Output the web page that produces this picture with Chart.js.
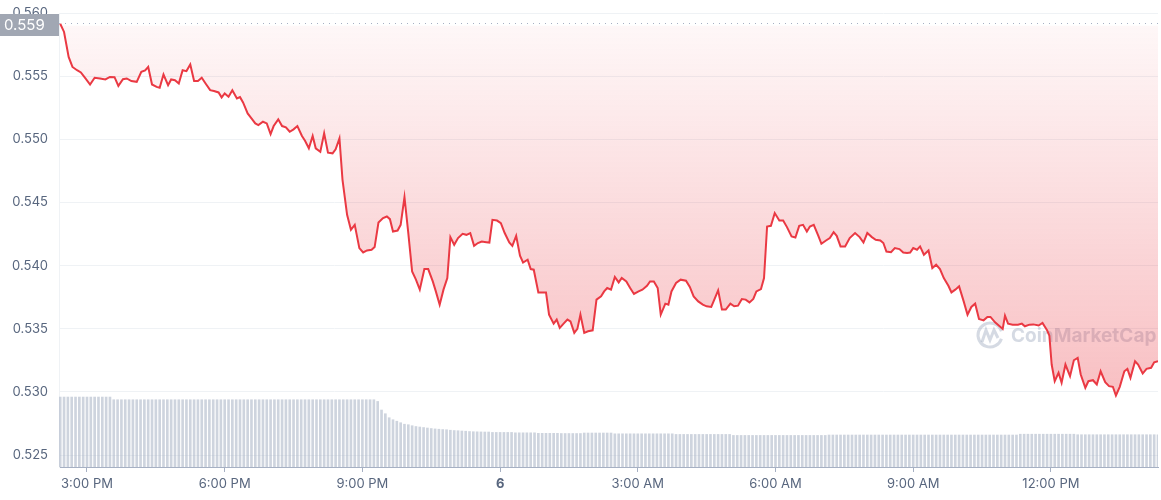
<!DOCTYPE html>
<html>
<head>
<meta charset="utf-8">
<script src="https://cdn.jsdelivr.net/npm/chart.js@4.4.0/dist/chart.umd.min.js"></script>
<style>
  body { margin: 0; background: #fff; }
  #wrap { width: 1161px; height: 500px; }
</style>
</head>
<body>
<div id="wrap"><canvas id="priceChart" width="1161" height="500"></canvas></div>
<script>
// times are minutes after midnight of day 5 (900 = 3:00 PM, 1440 = midnight "6")
var tickTimes = [900, 1080, 1260, 1440, 1620, 1800, 1980, 2160];
var tickLabels = ['3:00 PM', '6:00 PM', '9:00 PM', '6', '3:00 AM', '6:00 AM', '9:00 AM', '12:00 PM'];
var yTicks = [0.525, 0.530, 0.535, 0.540, 0.545, 0.550, 0.555, 0.560];
var openPrice = 0.559;

var priceTimes = [
  865,870,876,881,887,892,898,904,910,917,
  924,930,936,941,947,952,958,965,971,976,
  980,985,991,995,1000,1006,1010,1015,1020,1025,
  1030,1035,1040,1045,1050,1055,1061,1066,1072,1076,
  1080,1085,1090,1096,1100,1104,1110,1115,1120,1124,
  1130,1135,1140,1144,1150,1155,1160,1165,1170,1175,
  1181,1185,1190,1195,1199,1205,1210,1215,1221,1225,
  1230,1234,1240,1245,1250,1256,1261,1266,1272,1276,
  1281,1287,1292,1296,1300,1306,1310,1315,1320,1325,
  1330,1335,1341,1346,1352,1356,1361,1366,1371,1375,
  1380,1385,1391,1396,1401,1406,1411,1416,1422,1426,
  1430,1436,1441,1446,1452,1456,1461,1466,1470,1476,
  1480,1484,1490,1496,1500,1504,1510,1514,1518,1523,
  1528,1532,1537,1541,1545,1550,1555,1561,1566,1572,
  1576,1580,1585,1590,1595,1599,1605,1610,1615,1621,
  1626,1632,1636,1641,1646,1650,1656,1660,1664,1670,
  1676,1683,1688,1693,1699,1705,1710,1716,1720,1725,
  1730,1735,1741,1746,1751,1756,1761,1766,1771,1775,
  1781,1785,1789,1794,1799,1805,1810,1815,1821,1826,
  1831,1836,1841,1845,1850,1856,1860,1866,1871,1876,
  1880,1885,1891,1897,1904,1910,1915,1920,1926,1931,
  1937,1941,1945,1951,1956,1962,1967,1972,1976,1980,
  1985,1989,1994,2000,2005,2010,2015,2020,2026,2030,
  2035,2040,2046,2051,2056,2061,2066,2072,2077,2081,
  2087,2093,2097,2100,2104,2110,2117,2122,2126,2132,
  2137,2144,2149,2155,2158,2161,2165,2170,2174,2179,
  2185,2190,2195,2199,2205,2209,2215,2220,2225,2231,
  2236,2241,2245,2250,2256,2260,2264,2270,2274,2280,
  2285,2291,2295,2300
];

var prices = [
  0.55915,0.5585,0.55652,0.55573,0.55547,0.55529,0.55482,0.55434,0.55487,0.55482,
  0.55474,0.55494,0.55492,0.55423,0.55476,0.55482,0.55461,0.55455,0.55534,0.55545,
  0.55573,0.55434,0.55415,0.55408,0.55513,0.55429,0.55474,0.55468,0.55442,0.55547,
  0.5554,0.55592,0.55461,0.55461,0.55487,0.55442,0.55389,0.55382,0.55371,0.55332,
  0.55363,0.55337,0.55389,0.55324,0.55334,0.55292,0.55205,0.55166,0.55126,0.55113,
  0.55139,0.55126,0.55042,0.55105,0.55158,0.55105,0.55095,0.5506,0.55079,0.55105,
  0.55026,0.54989,0.54929,0.55026,0.54929,0.54902,0.55047,0.54894,0.54889,0.54921,
  0.55008,0.54679,0.54402,0.54284,0.54323,0.54139,0.54104,0.5412,0.54126,0.54147,
  0.54341,0.54376,0.54389,0.54368,0.5427,0.54278,0.54323,0.54542,0.54258,0.53954,
  0.53889,0.5381,0.53973,0.53973,0.53875,0.53796,0.53691,0.5381,0.53902,0.54226,
  0.54165,0.54218,0.54252,0.54244,0.54258,0.54157,0.54179,0.54191,0.54186,0.54183,
  0.54363,0.54357,0.54337,0.54258,0.54183,0.54157,0.54236,0.54078,0.54025,0.54047,
  0.53973,0.53968,0.53788,0.53788,0.53788,0.53612,0.53541,0.53573,0.53507,0.53541,
  0.53573,0.53559,0.53468,0.53499,0.53612,0.53468,0.5348,0.53488,0.53731,0.53757,
  0.53796,0.53823,0.5381,0.5391,0.53867,0.53902,0.53875,0.53823,0.53776,0.53796,
  0.5381,0.53841,0.53875,0.53875,0.53823,0.53612,0.53699,0.53691,0.53796,0.53863,
  0.53889,0.53881,0.53831,0.53757,0.53717,0.53691,0.53678,0.53673,0.53731,0.53804,
  0.53652,0.53652,0.53699,0.53678,0.53683,0.53736,0.53731,0.53709,0.53736,0.53796,
  0.53815,0.53902,0.5431,0.54315,0.54416,0.54357,0.54357,0.54305,0.54231,0.54223,
  0.54315,0.54323,0.5427,0.5431,0.54323,0.54236,0.54173,0.54199,0.54218,0.54265,
  0.54236,0.54152,0.54152,0.54218,0.54258,0.54226,0.54183,0.54258,0.54226,0.54205,
  0.54199,0.54179,0.54112,0.54107,0.54139,0.54131,0.54104,0.541,0.54104,0.54139,
  0.54126,0.54152,0.54086,0.5412,0.53981,0.54007,0.53973,0.53902,0.53841,0.53788,
  0.5381,0.53836,0.53717,0.53612,0.53673,0.53699,0.53578,0.53567,0.53594,0.53594,
  0.53551,0.5352,0.53499,0.53604,0.53541,0.53533,0.53533,0.53541,0.5352,0.53533,
  0.53535,0.53526,0.53547,0.53488,0.53446,0.53217,0.53085,0.53152,0.53073,0.53217,
  0.53125,0.53251,0.5327,0.53138,0.53033,0.53085,0.53093,0.53059,0.53164,0.53077,
  0.53046,0.53041,0.52972,0.53041,0.53164,0.53183,0.53112,0.53243,0.53217,0.53146,
  0.53183,0.53191,0.53235,0.53243
];

// 5 minute volume bars (24h rolling volume, millions)
var volTimes = [
  865,870,875,880,885,890,895,900,905,910,915,920,
  925,930,935,940,945,950,955,960,965,970,975,980,
  985,990,995,1000,1005,1010,1015,1020,1025,1030,1035,1040,
  1045,1050,1055,1060,1065,1070,1075,1080,1085,1090,1095,1100,
  1105,1110,1115,1120,1125,1130,1135,1140,1145,1150,1155,1160,
  1165,1170,1175,1180,1185,1190,1195,1200,1205,1210,1215,1220,
  1225,1230,1235,1240,1245,1250,1255,1260,1265,1270,1275,1280,
  1285,1290,1295,1300,1305,1310,1315,1320,1325,1330,1335,1340,
  1345,1350,1355,1360,1365,1370,1375,1380,1385,1390,1395,1400,
  1405,1410,1415,1420,1425,1430,1435,1440,1445,1450,1455,1460,
  1465,1470,1475,1480,1485,1490,1495,1500,1505,1510,1515,1520,
  1525,1530,1535,1540,1545,1550,1555,1560,1565,1570,1575,1580,
  1585,1590,1595,1600,1605,1610,1615,1620,1625,1630,1635,1640,
  1645,1650,1655,1660,1665,1670,1675,1680,1685,1690,1695,1700,
  1705,1710,1715,1720,1725,1730,1735,1740,1745,1750,1755,1760,
  1765,1770,1775,1780,1785,1790,1795,1800,1805,1810,1815,1820,
  1825,1830,1835,1840,1845,1850,1855,1860,1865,1870,1875,1880,
  1885,1890,1895,1900,1905,1910,1915,1920,1925,1930,1935,1940,
  1945,1950,1955,1960,1965,1970,1975,1980,1985,1990,1995,2000,
  2005,2010,2015,2020,2025,2030,2035,2040,2045,2050,2055,2060,
  2065,2070,2075,2080,2085,2090,2095,2100,2105,2110,2115,2120,
  2125,2130,2135,2140,2145,2150,2155,2160,2165,2170,2175,2180,
  2185,2190,2195,2200,2205,2210,2215,2220,2225,2230,2235,2240,
  2245,2250,2255,2260,2265,2270,2275,2280,2285,2290,2295,2300
];
var volumes = [
  700,700,700,700,700,700,700,700,700,700,700,700,
  700,700,673,673,673,673,673,673,673,673,673,673,
  673,673,673,673,673,673,673,673,673,673,673,673,
  673,673,673,673,673,673,673,673,673,673,673,673,
  673,673,673,673,673,673,673,673,673,673,673,673,
  673,673,673,673,673,673,673,673,673,673,673,673,
  673,673,673,673,673,673,673,673,673,673,673,656,
  570,533,493,473,458,443,428,423,413,405,400,395,
  390,385,381,378,375,373,368,365,363,360,358,355,
  353,352,351,350,350,346,346,346,346,346,346,342,
  342,342,342,342,342,337,337,337,337,337,337,335,
  335,335,335,335,335,340,340,340,340,340,340,340,
  340,332,332,332,332,332,332,332,332,332,332,332,
  332,332,332,332,332,326,326,326,326,326,326,326,
  326,326,326,326,326,326,326,326,316,316,316,316,
  316,316,316,316,316,316,316,316,316,316,316,316,
  316,316,316,316,316,316,316,316,316,320,320,320,
  320,320,320,320,320,320,320,320,320,320,320,320,
  320,320,320,320,320,320,320,320,320,320,320,320,
  320,320,320,320,320,320,320,320,320,320,320,320,
  320,320,320,320,320,320,320,320,320,320,320,328,
  328,328,328,328,328,328,328,328,328,328,328,328,
  328,328,323,323,323,323,323,323,323,323,323,323,
  323,323,323,323,323,323,323,323,323,323,323,323
];

var red = '#ea3943';
var labelColor = '#58667e';
var lowPrice = Math.min.apply(null, prices);

// dotted open-price line + grey price tag on the left
var openLinePlugin = {
  id: 'openLine',
  afterDraw: function (chart) {
    var ctx = chart.ctx;
    var area = chart.chartArea;
    var py = Math.round(chart.scales.y.getPixelForValue(openPrice));
    var y = py - 2.5;
    ctx.save();
    ctx.strokeStyle = '#a6b0c3';
    ctx.lineWidth = 1;
    ctx.setLineDash([1, 5]);
    ctx.beginPath();
    ctx.moveTo(area.left, y);
    ctx.lineTo(area.right, y);
    ctx.stroke();
    ctx.setLineDash([]);
    ctx.fillStyle = '#a1a7b3';
    ctx.fillRect(0, py - 12, area.left, 22);
    ctx.fillStyle = '#ffffff';
    ctx.font = '15px Inter, "Noto Sans", sans-serif';
    ctx.textBaseline = 'middle';
    ctx.textAlign = 'left';
    ctx.fillText(openPrice.toFixed(3), 4, py - 0.5);
    ctx.restore();
  }
};

var watermarkPlugin = {
  id: 'watermark',
  beforeDatasetsDraw: function (chart) {
    var ctx = chart.ctx;
    ctx.save();
    ctx.strokeStyle = 'rgba(150,162,185,0.4)';
    ctx.fillStyle = 'rgba(150,162,185,0.4)';
    ctx.lineWidth = 3;
    ctx.beginPath();
    ctx.arc(990, 335, 12, 0.1 * Math.PI, 1.9 * Math.PI);
    ctx.stroke();
    ctx.beginPath();
    ctx.moveTo(982, 342);
    ctx.lineTo(986, 330);
    ctx.lineTo(990, 340);
    ctx.lineTo(994, 330);
    ctx.lineTo(998, 338);
    ctx.stroke();
    ctx.font = 'bold 19px Inter, "Noto Sans", sans-serif';
    ctx.textBaseline = 'middle';
    ctx.fillText('CoinMarketCap', 1011, 336);
    ctx.restore();
  }
};

var ctx = document.getElementById('priceChart').getContext('2d');

var chart = new Chart(ctx, {
  type: 'line',
  data: {
    datasets: [{
      label: 'Price',
      data: priceTimes.map(function (t, i) { return { x: t, y: prices[i] }; }),
      borderColor: red,
      borderWidth: 2,
      pointRadius: 0,
      tension: 0,
      fill: { value: openPrice },
      backgroundColor: function (context) {
        var c = context.chart;
        if (!c.chartArea) return 'rgba(234,57,67,0.15)';
        var ys = c.scales.y;
        var g = c.ctx.createLinearGradient(0, ys.getPixelForValue(openPrice), 0, ys.getPixelForValue(lowPrice));
        g.addColorStop(0, 'rgba(234,57,67,0.04)');
        g.addColorStop(1, 'rgba(234,57,67,0.32)');
        return g;
      },
      order: 0
    }, {
      type: 'bar',
      label: 'Volume',
      data: volTimes.map(function (t, i) { return { x: t, y: volumes[i] }; }),
      backgroundColor: 'rgba(166,176,195,0.55)',
      barThickness: 2,
      yAxisID: 'yv',
      order: 1
    }]
  },
  options: {
    responsive: false,
    devicePixelRatio: 1,
    animation: false,
    layout: { padding: { top: 13, right: 3, left: 0, bottom: 0 } },
    plugins: {
      legend: { display: false },
      tooltip: { enabled: false }
    },
    scales: {
      x: {
        type: 'linear',
        min: 863.4,
        max: 2300,
        offset: false,
        afterBuildTicks: function (scale) {
          scale.ticks = tickTimes.map(function (v) { return { value: v }; });
        },
        afterFit: function (scale) { scale.height = 33; },
        ticks: {
          autoSkip: false,
          maxRotation: 0,
          color: labelColor,
          padding: 4,
          font: function (c) {
            var bold = c.tick && c.tick.value === 1440;
            return { family: 'Inter', size: 13, weight: bold ? 'bold' : 'normal' };
          },
          callback: function (value, index) { return tickLabels[index]; }
        },
        grid: { drawOnChartArea: false, drawTicks: true, tickLength: 5, color: '#a6b0c3', offset: false },
        border: { color: '#a6b0c3' }
      },
      y: {
        min: 0.52406,
        max: 0.560,
        afterBuildTicks: function (scale) {
          scale.ticks = yTicks.map(function (v) { return { value: v }; });
        },
        afterFit: function (scale) {
          scale.width = 59;
          scale.paddingTop = 7;
          scale.paddingBottom = 7;
        },
        ticks: {
          color: labelColor,
          padding: 11,
          font: { family: 'Inter', size: 13 },
          callback: function (v) { return v.toFixed(3); }
        },
        grid: { color: '#eff2f5', drawTicks: false },
        border: { color: '#eff2f5' }
      },
      yv: {
        display: false,
        min: 0,
        max: 4543
      }
    }
  },
  plugins: [watermarkPlugin, openLinePlugin]
});
</script>
</body>
</html>
